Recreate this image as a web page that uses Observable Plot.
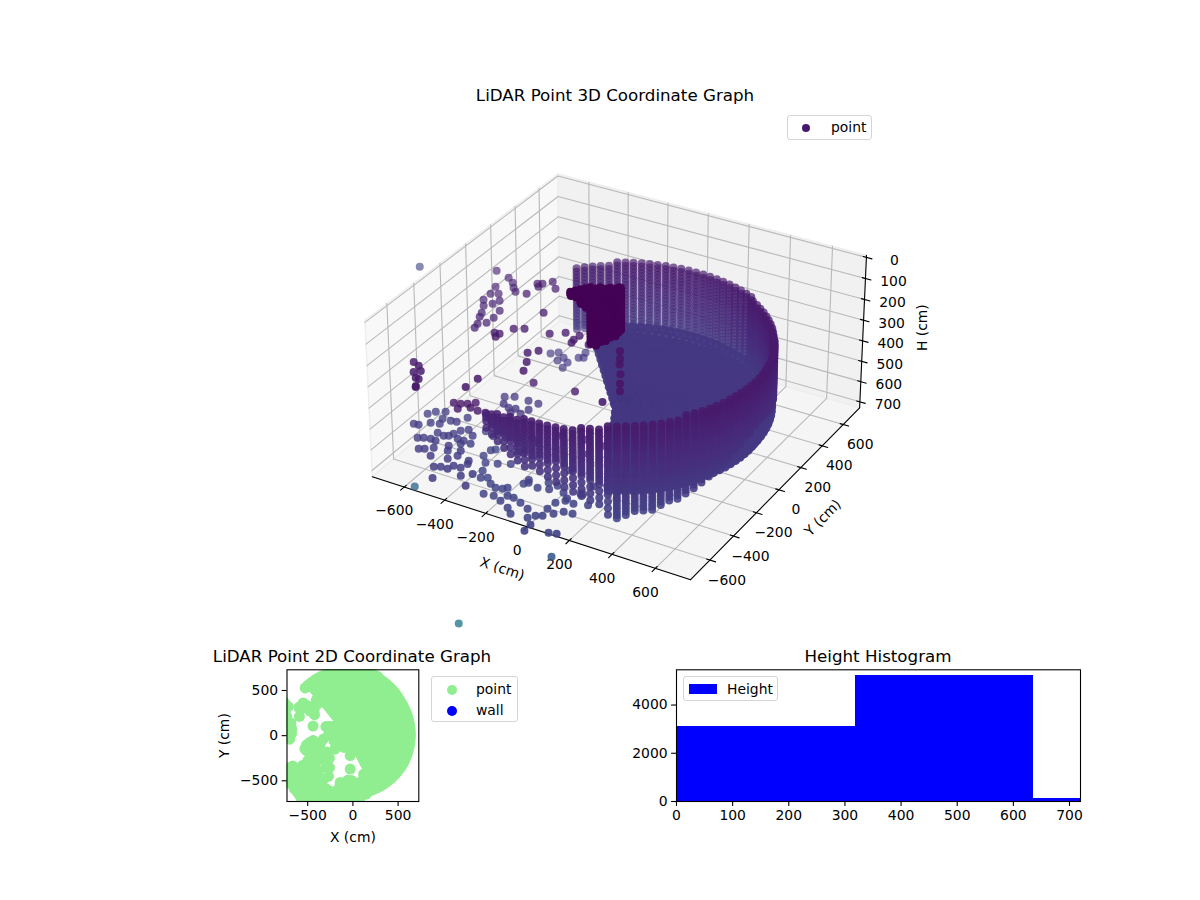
<!DOCTYPE html><html><head><meta charset="utf-8">
<script src="https://cdn.jsdelivr.net/npm/d3@7"></script>
<script src="https://cdn.jsdelivr.net/npm/@observablehq/plot@0.6"></script>
<style>
html,body{margin:0;background:#fff}
#page{position:relative;width:1200px;height:900px;overflow:hidden;font-family:"DejaVu Sans",sans-serif;color:#000}
#page>div.p{position:absolute;left:0;top:0}
.t{position:absolute;transform:translate(-50%,-50%);white-space:nowrap;font-size:16.7px}
.lg{position:absolute;background:rgba(255,255,255,.8);border:1px solid #d5d5d5;border-radius:3px;box-sizing:border-box;font-size:13.9px}
.lg i{position:absolute;display:block}
.lg span{position:absolute;transform:translateY(-50%)}
</style></head><body><div id="page"></div>
<script>
// ---- wall columns (one X,Y per column, H span per column)
const wallX=[-528,-502,-474,-446,-416,-385,-353,-321,-287,-253,-219,-183,-148,-112,-76,-40,-4,32,68,103,139,173,207,241,273,297,327,355,382,408,432,455,477,496,515,532,550,565,580,593,604,614,622,628,633,635,636,634,631,626,619,610,600,587,574,558,539,518,496,473,448,422,394,366,336,305,273,241,207,173,139,103,68,32,-4,-40,-76,-112,-148,-183,-219,-253,-287];
const wallY=[528,553,576,598,619,638,655,670,684,696,706,715,721,726,729,730,729,726,721,715,706,696,684,670,655,625,605,583,561,537,512,486,458,430,400,370,340,310,278,246,213,179,145,110,75,40,3,-31,-66,-101,-137,-171,-205,-240,-272,-305,-336,-366,-394,-422,-448,-473,-496,-518,-539,-558,-575,-590,-604,-616,-626,-635,-641,-646,-649,-650,-649,-646,-641,-635,-626,-616,-604];
const wallTop=[278,278,276,274,273,272,272,272,272,272,272,272,272,272,272,272,272,272,272,272,272,272,272,272,272,272,267,267,267,262,262,262,258,258,258,258,253,253,253,253,253,253,253,253,253,253,244,244,244,244,244,244,244,244,244,244,253,253,258,258,262,262,267,267,267,267,272,276,281,286,290,295,300,300,300,300,304,309,314,324,334,344,354];
const wallBottom=[600,600,600,600,600,600,600,600,600,600,600,600,600,600,600,600,600,600,600,600,600,600,600,600,600,600,600,600,600,600,600,600,600,600,581,539,530,520,511,502,497,488,483,474,469,469,474,483,493,507,520,534,553,567,586,604,618,632,646,655,665,674,679,683,688,704,704,655,632,612,595,580,570,560,550,540,530,520,510,500,490,470,450];
const thinFrom=[560,540,520,510,500,490,480,480,470,470,460,450,440,430,420,410,400];
const heightLayers=[240,256,272,288,304,320,336,352,368,384,400,416,432,448,464,480,496,512,528,544,560,576,592,608,624,640,656,672,688,704];
// ---- floor fan
const floorCentre=[-40,40];
const floorAngles=[129,126,123,120,117,114,111,108,105,102,99,96,93,90,87,84,81,78,75,72,69,66,63,60,57,54,51,48,45,42,39,36,33,30,27,24,21,18,15,12,9,6,3,0,-3,-6,-9,-12,-15,-18,-21,-24,-27,-30,-33,-36,-39,-42,-45,-48,-51,-54,-57,-60,-63];
const floorRadiiA=[30,78,126,174,222,270,318,366,414,462,510,558,606,654];
const floorRadiiB=[54,102,150,198,246,294,342,390,438,486,534,582,630];
const floorLevels=[573,609];
// ---- dark block near the centre
const blockRowY=[100,20,-60];
const blockRowShiftX=[0,46,92];
const blockRowShiftH=[0,-55,-110];
const blockX=[-299,-274,-250,-226,-202,-178,-154,-130,-106,-82,-66,-56];
const blockTop=[143,134,122,110,99,92,86,80,74,69,65,65];
const blockBottom=[167,170,186,203,373,366,346,330,309,293,274,262];
const blockLayers=[65,77,89,101,113,125,137,149,161,173,185,197,209,221,233,245,257,269,281,293,305,317,329,341,353,365];
const blockTone=[24];
const tailY=[100];
const tailX=[-60,-60,-62,-58,-60,-60];
const tailH=[358,395,423,469,516,553];
const tailTone=[180];
// ---- isolated points, by group
const aX=[-693,-657,-627,-648,-614,-599,-574,-578,-598,-579,-580,-550,-507,-592,-432,-441,-479,-439,-508,-531,-509,-325,-271,-207,-211,-206,-135,-322,-291,-286,-259,-388,-396,150];
const aY=[-520,-537,-567,-589,-625,-626,-686,-679,313,324,292,362,314,213,316,106,-76,-53,-142,-145,-172,-36,5,13,-29,-55,-34,-219,-182,-285,-354,-504,-584,-406];
const bX=[-1206,-890,-810,-770,-743,-716,-816,-801,-771,-799,-734,-770,-746,-686,-744,-676,-733,-708,-700,-679];
const bY=[303,442,414,384,347,320,315,250,268,189,217,144,179,141,87,76,53,-3,-39,23];
const cX=[-534,-508,-466,-476,-429,-425,-409,-390,-405,-514,-477,-408,-358,-487,-451,-421,-381,-369,-422];
const cY=[310,335,308,273,280,232,341,352,394,-104,-82,-81,-82,-155,-173,-165,-189,-144,-204];
const dX=[-571,-542,-516,-491,-530,-488,-449,-412,-366,-177];
const dY=[-413,-405,-391,-367,-446,-412,-418,-415,-105,-78];
const eX=[-702,-723,-666,-646,-672,-634,-729,-707,-607,-581,-558,-527,-502,-540,-602,-567,-653,-631,-601,-575,-549,-503,-473,-462,-506,-471,-435,-601,-580,-551,-488,-441,-528,-454,-431,-370,-470,-445,-412,-403,-370,-361,-302,-336,-428,-278];
const eY=[-356,-387,-335,-389,-442,-430,-485,-481,-386,-380,-330,-433,-410,-468,-495,-503,-571,-558,-550,-553,-492,-494,-494,-442,-559,-521,-500,-642,-629,-604,-594,-567,-663,-647,-607,-617,-728,-714,-713,-681,-679,-639,-694,-731,-802,-785];
const fX=[-385,-404,-367,-319,-344,-297,-322,-262,-228,-199,-185,-246,-202,-158,-153,-123,-79,-30,-105,-71,5,42,44,25,50,40,45,81,109,73,113,148,99,35,-14,-58,-78,-144,-130,136,168];
const fY=[-385,-451,-494,-475,-553,-588,-603,-621,-637,-629,-612,-701,-693,-711,-664,-665,-683,-707,-741,-773,-764,-802,-852,-735,-721,-666,-611,-686,-652,-578,-581,-647,-501,-530,-496,-495,-550,-553,-536,-816,-806];
const gX=[-500,-450,-400,-350,-300,-260,-400,-300,-270,-270,-200,-100,0,-30,60,-140,-30,118,110,170,70,-30];
const gY=[-280,-300,-280,-260,-230,-250,-400,-350,-350,-450,-150,-130,-130,-220,-180,-518,-537,-426,-500,-560,-560,-370];
const farX=[73,-707,-374];
const farY=[-693,-528,-724];
const farH=[888,888,1354];
const farTone=[950,1150,1400];
const groupH={a:283,b:358,c:609,d:497,e:609,f:683,g:683};
const groupTone={a:250,b:330,cHigh:560,cLow:520,d:220,e:600,f:680,g:660,first:700};
// ---- axes
const xyTicks=[-600,-400,-200,0,200,400,600];
const hTicks=[0,100,200,300,400,500,600,700];
const xyLimit=[-760,760];
const hLimit=[-10,730];
const histEdges=[0,319,636,950];
const histCounts=[3103,5213,124];

// ---- matplotlib-style 3D view
const boxHalf=.595,zHalf=.29,screen={tx:620,ty:365,sx:3040,sy:3075};
function view(X,Y,H){
  const a=X/xyLimit[1]*boxHalf,b=Y/xyLimit[1]*boxHalf,z=zHalf-(H-hLimit[0])/(hLimit[1]-hLimit[0])*2*zHalf;
  const u=.866*a+.5*b,v=-.25*a+.433*b+.866*z,w=.433*a-.75*b+.5*z,d=10-w;
  return {x:u/d,y:v/d,w};
}
const pts=[];
const add=(X,Y,H,tone,boost=0,rr=4)=>{const p=view(X,Y,H);pts.push({...p,tone,X,Y,boost,rr});};
const thinStart=wallX.length-thinFrom.length;
wallX.forEach((X,i)=>heightLayers.forEach((h,j)=>{
  if(h<wallTop[i]||h>wallBottom[i])return;
  if(i>=thinStart&&h>=thinFrom[i-thinStart]&&(i+j)%2==1)return;
  add(X,wallY[i],h,h-25);
}));
const rad=t=>t*Math.PI/180;
const floorAt=(t,r,h)=>add(floorCentre[0]+r*Math.cos(rad(t)),floorCentre[1]+r*Math.sin(rad(t)),h,h-25,.25,5.2);
floorAngles.forEach(t=>{floorRadiiA.forEach(r=>floorAt(t,r,floorLevels[0]));floorRadiiB.forEach(r=>floorAt(t,r,floorLevels[1]));});
blockRowY.forEach((Y,k)=>blockX.forEach((X,i)=>blockLayers.filter(h=>h>=blockTop[i]&&h<=blockBottom[i]).forEach(h=>add(X+blockRowShiftX[k],Y,h+blockRowShiftH[k],blockTone[0],.2))));
tailX.forEach((X,i)=>add(X,tailY[0],tailH[i],tailTone[0],.1));
aX.forEach((X,i)=>add(X,aY[i],groupH.a,groupTone.a));
bX.forEach((X,i)=>add(X,bY[i],groupH.b,i==0?groupTone.first:groupTone.b));
cX.forEach((X,i)=>add(X,cY[i],groupH.c,i<9?groupTone.cHigh:groupTone.cLow));
dX.forEach((X,i)=>add(X,dY[i],groupH.d,groupTone.d));
eX.forEach((X,i)=>add(X,eY[i],groupH.e,groupTone.e));
fX.forEach((X,i)=>add(X,fY[i],groupH.f,groupTone.f));
gX.forEach((X,i)=>add(X,gY[i],groupH.g,groupTone.g));
farX.forEach((X,i)=>add(X,farY[i],farH[i],farTone[i],.02));
const ws=d3.extent(pts.filter(p=>p.tone<900),p=>p.w);
pts.forEach(p=>p.alpha=Math.min(.97,.63+.3*(p.w-ws[0])/(ws[1]-ws[0])+p.boost));
pts.sort((a,b)=>a.w-b.w);

const [x0,x1]=xyLimit,[h0,h1]=hLimit;
const path=(k,cs)=>cs.map(c=>({...view(...c),k}));
const paneLeft=path("l",[[x0,x0,h1],[x0,x1,h1],[x0,x1,h0],[x0,x0,h0],[x0,x0,h1]]);
const paneBack=path("b",[[x0,x1,h1],[x1,x1,h1],[x1,x1,h0],[x0,x1,h0],[x0,x1,h1]]);
const paneFloor=path("f",[[x0,x0,h1],[x1,x0,h1],[x1,x1,h1],[x0,x1,h1],[x0,x0,h1]]);
const grid=[
 ...xyTicks.flatMap(t=>path("gx"+t,[[t,x0,h1],[t,x1,h1],[t,x1,h0]])),
 ...xyTicks.flatMap(t=>path("gy"+t,[[x1,t,h1],[x0,t,h1],[x0,t,h0]])),
 ...hTicks.flatMap(t=>path("gh"+t,[[x0,x0,t],[x0,x1,t],[x1,x1,t]]))];
const axes=[...path("ax",[[x0,x0,h1],[x1,x0,h1]]),...path("ay",[[x1,x0,h1],[x1,x1,h1]]),...path("ah",[[x1,x1,h1],[x1,x1,h0]])];
const ticks=[
 ...xyTicks.flatMap(t=>path("tx"+t,[[t,x0+15,h1],[t,x0-28,h1]])),
 ...xyTicks.flatMap(t=>path("ty"+t,[[x1-15,t,h1],[x1+26,t,h1]])),
 ...hTicks.flatMap(t=>path("th"+t,[[x1-15,x1,t],[x1+26,x1,t]]))];
const fmt=d3.format("d");
const lab=(rows,o)=>Plot.text(rows,{x:"x",y:"y",text:"s",...o});
const S=screen,W3=1200,H3=640;
const chart3=Plot.plot({width:W3,height:H3,margin:0,
  style:{fontFamily:"DejaVu Sans",fontSize:"13.9px",background:"transparent",overflow:"visible"},
  x:{domain:[-S.tx/S.sx,(W3-S.tx)/S.sx],range:[0,W3],axis:null},
  y:{domain:[S.ty/S.sy,(S.ty-H3)/S.sy],range:[0,H3],axis:null},
  r:{type:"identity"},
  color:{type:"linear",scheme:"viridis",domain:[0,3400]},
  marks:[
   Plot.line(paneLeft,{x:"x",y:"y",fill:"#f8f8f8",stroke:"#eeeeee",strokeWidth:1.5}),
   Plot.line(paneBack,{x:"x",y:"y",fill:"#f1f1f1",stroke:"#eeeeee",strokeWidth:1.5}),
   Plot.line(paneFloor,{x:"x",y:"y",fill:"#f5f5f5",stroke:"#eeeeee",strokeWidth:1.5}),
   Plot.line(grid,{x:"x",y:"y",z:"k",stroke:"#b9b9b9",strokeWidth:1.1}),
   Plot.line(axes,{x:"x",y:"y",z:"k",stroke:"#000",strokeWidth:1.1}),
   Plot.line(ticks,{x:"x",y:"y",z:"k",stroke:"#000",strokeWidth:1.1}),
   lab(xyTicks.map(t=>({...view(t,x0,h1),s:fmt(t)})),{dx:-10,dy:24,fill:"#000"}),
   lab(xyTicks.map(t=>({...view(x1,t,h1),s:fmt(t)})),{dx:17,dy:20,fill:"#000"}),
   lab(hTicks.map(t=>({...view(x1,x1,t),s:fmt(t)})),{dx:28,dy:3,fill:"#000"}),
   lab([{...view(0,x0,h1),s:"X (cm)"}],{dx:-25,dy:42,rotate:18,fill:"#000"}),
   lab([{...view(x1,0,h1),s:"Y (cm)"}],{dx:44,dy:28,rotate:-45,fill:"#000"}),
   lab([{...view(x1,x1,360),s:"H (cm)"}],{dx:60,dy:-5,rotate:-90,fill:"#000"}),
   Plot.dot(pts,{x:"x",y:"y",r:"rr",fill:"tone",fillOpacity:"alpha",stroke:"none"})
  ]});
const frame=()=>Plot.frame({stroke:"#000",strokeWidth:1.1,fill:"none"});
const seen=new Set();const flat=pts.filter(p=>{const k=Math.round(p.X)+"|"+Math.round(p.Y);if(seen.has(k))return false;seen.add(k);return true;});
const plot2=Plot.plot({width:330,height:220,marginLeft:86.5,marginRight:111.7,marginTop:29.3,marginBottom:59,
  style:{fontFamily:"DejaVu Sans",fontSize:"13.9px",background:"transparent",overflow:"visible"},
  x:{domain:[-729,729]},y:{domain:[-729,729]},
  marks:[
   Plot.dot(flat,{x:"X",y:"Y",r:5.5,fill:"#90ee90",clip:true}),
   frame(),
   Plot.axisX({ticks:[-500,0,500],tickSize:4.9,tickPadding:4,tickFormat:fmt,label:"X (cm)",labelAnchor:"center",labelArrow:"none",labelOffset:40,stroke:"#000",strokeWidth:1.1,fill:"#000"}),
   Plot.axisY({ticks:[-500,0,500],tickSize:4.9,tickPadding:4,tickFormat:fmt,label:"Y (cm)",labelAnchor:"center",labelArrow:"none",labelOffset:68,stroke:"#000",strokeWidth:1.1,fill:"#000"})
  ]});
const histRows=histCounts.map((c,i)=>({a:histEdges[i],b:histEdges[i+1],c}));
const plotH=Plot.plot({width:480,height:220,marginLeft:56,marginRight:20,marginTop:29.3,marginBottom:59,
  style:{fontFamily:"DejaVu Sans",fontSize:"13.9px",background:"transparent",overflow:"visible"},
  x:{domain:[0,719.6]},y:{domain:[0,5461]},
  marks:[
   Plot.rectY(histRows,{x1:"a",x2:"b",y:"c",fill:"#0000ff",clip:true,inset:0,shapeRendering:"crispEdges"}),
   frame(),
   Plot.axisX({ticks:[0,100,200,300,400,500,600,700],tickSize:4.9,tickPadding:4,tickFormat:fmt,label:null,stroke:"#000",strokeWidth:1.1,fill:"#000"}),
   Plot.axisY({ticks:[0,2000,4000],tickSize:4.9,tickPadding:4,tickFormat:fmt,label:null,stroke:"#000",strokeWidth:1.1,fill:"#000"})
  ]});
const page=document.getElementById("page");
const place=(el,l,t)=>{const d=document.createElement("div");d.className="p";d.style.left=l+"px";d.style.top=t+"px";d.append(el);page.append(d);};
place(chart3,0,0);place(plot2,200,640);place(plotH,620,640);
const html=(s)=>{const t=document.createElement("template");t.innerHTML=s;page.append(t.content);};
html(`<div class="t" style="left:615px;top:95px">LiDAR Point 3D Coordinate Graph</div>
<div class="t" style="left:352px;top:656px">LiDAR Point 2D Coordinate Graph</div>
<div class="t" style="left:878px;top:656px">Height Histogram</div>
<div class="lg" style="left:787px;top:115px;width:85px;height:25px"><i style="left:14px;top:8px;width:8px;height:8px;border-radius:50%;background:#46186e"></i><span style="left:43px;top:11px">point</span></div>
<div class="lg" style="left:431px;top:676px;width:87px;height:46px"><i style="left:15px;top:8px;width:10px;height:10px;border-radius:50%;background:#90ee90"></i><span style="left:44px;top:12px">point</span><i style="left:15px;top:29px;width:10px;height:10px;border-radius:50%;background:#0000ff"></i><span style="left:44px;top:33px">wall</span></div>
<div class="lg" style="left:683px;top:676px;width:95px;height:25px"><i style="left:5px;top:7px;width:28px;height:10px;background:#0000ff"></i><span style="left:43px;top:12px">Height</span></div>`);
</script></body></html>
